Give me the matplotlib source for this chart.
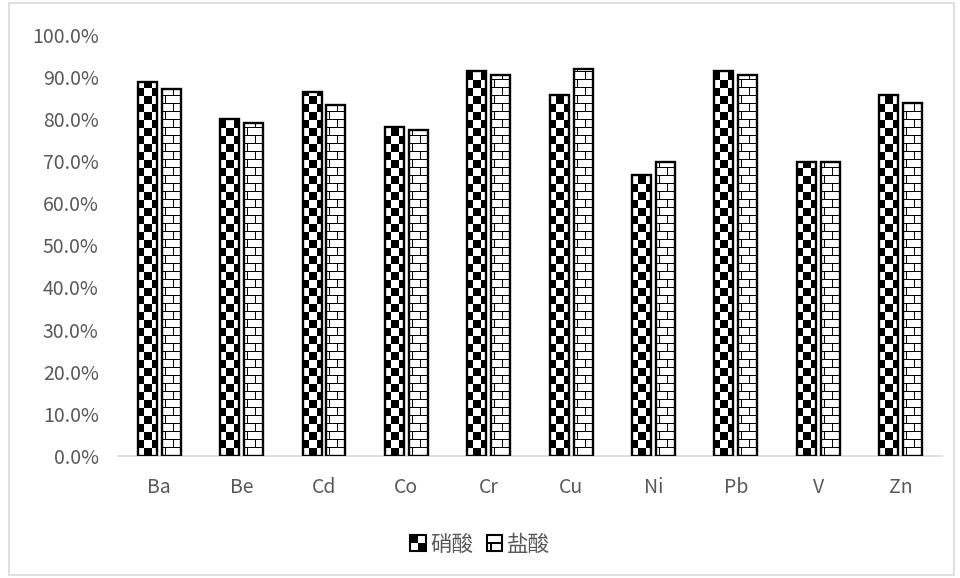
import numpy as np
import matplotlib
matplotlib.use('Agg')
import matplotlib.pyplot as plt
from matplotlib.patches import Rectangle
from matplotlib.legend_handler import HandlerBase

plt.rcParams['font.family'] = ['Noto Sans CJK SC', 'DejaVu Sans']

# data (percent)
elements = ['Ba', 'Be', 'Cd', 'Co', 'Cr', 'Cu', 'Ni', 'Pb', 'V', 'Zn']
nitric = [88.7, 80.0, 86.3, 78.0, 91.4, 85.7, 66.7, 91.4, 69.9, 85.7]
hydrochloric = [87.1, 79.0, 83.2, 77.3, 90.5, 91.9, 69.9, 90.5, 69.9, 83.9]
series_names = ['硝酸', '盐酸']
y_ticks = np.arange(0, 101, 10)

grey = '#595959'


# pixel textures, 0 = black, 1 = white
def checker(h, w, cell=8):
    i, j = np.indices((h, w))
    return 1.0 - ((i // cell + (j + 2) // cell) % 2)


def brick(h, w, row=8, bw=16):
    i, j = np.indices((h, w))
    t = np.ones((h, w))
    t[i % row == 0] = 0
    shift = np.where((i // row) % 2 == 0, 3, 3 + bw // 2)
    t[(j - shift) % bw == 0] = 0
    return t


fig = plt.figure(figsize=(9.6, 5.78), dpi=100)
ax = fig.add_axes([0.123, 0.211, 0.858, 0.729])

x = np.arange(len(elements))
width = 0.23
off = 0.145

ax.set_xlim(-0.5, len(elements) - 0.5)
ax.set_ylim(0, 100)


def patterned_bars(xs, vals, texfunc):
    bars = ax.bar(xs, vals, width, facecolor='white', edgecolor='none', zorder=2)
    for b in bars:
        x0, y0 = b.get_x(), b.get_y()
        x1, y1 = x0 + b.get_width(), y0 + b.get_height()
        p0 = ax.transData.transform((x0, y0))
        p1 = ax.transData.transform((x1, y1))
        w_px = max(int(np.ceil(p1[0] - p0[0])), 1)
        h_px = max(int(np.ceil(p1[1] - p0[1])), 1)
        tex = texfunc(h_px, w_px)[::-1]
        im = ax.imshow(tex, extent=(x0, x1, y0, y1), cmap='gray', vmin=0, vmax=1,
                       interpolation='nearest', aspect='auto', zorder=2.5)
        im.set_clip_path(b)
    ax.bar(xs, vals, width, fill=False, edgecolor='black', linewidth=1.7, zorder=3)


patterned_bars(x - off, nitric, checker)
patterned_bars(x + off, hydrochloric, brick)

ax.set_xlim(-0.5, len(elements) - 0.5)
ax.set_ylim(0, 100)
ax.set_yticks(y_ticks)
ax.set_yticklabels(['%.1f%%' % v for v in y_ticks])
ax.set_xticks(x)
ax.set_xticklabels(elements)
ax.tick_params(axis='y', length=0, pad=14, labelsize=14, labelcolor=grey)
ax.tick_params(axis='x', length=0, pad=15, labelsize=14, labelcolor=grey)
for s in ['top', 'right', 'left']:
    ax.spines[s].set_visible(False)
ax.spines['bottom'].set_color('#d9d9d9')
ax.spines['bottom'].set_linewidth(1.2)


# legend icons
class CheckerHandler(HandlerBase):
    def create_artists(self, legend, orig, xd, yd, w, h, fs, trans):
        s = min(w, h)
        x0 = xd + (w - s) / 2
        y0 = yd + (h - s) / 2
        arts = [Rectangle((x0, y0), s, s, facecolor='white', edgecolor='black', lw=1.5, transform=trans),
                Rectangle((x0, y0 + s / 2), s / 2, s / 2, facecolor='black', edgecolor='none', transform=trans),
                Rectangle((x0 + s / 2, y0), s / 2, s / 2, facecolor='black', edgecolor='none', transform=trans)]
        return arts


class BrickHandler(HandlerBase):
    def create_artists(self, legend, orig, xd, yd, w, h, fs, trans):
        s = min(w, h)
        x0 = xd + (w - s) / 2
        y0 = yd + (h - s) / 2
        arts = [Rectangle((x0, y0), s, s, facecolor='white', edgecolor='black', lw=1.5, transform=trans),
                Rectangle((x0, y0 + s * 0.45), s, s * 0.12, facecolor='black', edgecolor='none', transform=trans),
                Rectangle((x0 + s * 0.22, y0), s * 0.12, s * 0.45, facecolor='black', edgecolor='none', transform=trans)]
        return arts


h1 = Rectangle((0, 0), 1, 1)
h2 = Rectangle((0, 0), 1, 1)
fig.legend([h1, h2], series_names, loc='center', bbox_to_anchor=(0.5, 0.057),
           ncol=2, frameon=False, fontsize=15.5, labelcolor=grey,
           handler_map={h1: CheckerHandler(), h2: BrickHandler()},
           handlelength=0.75, handleheight=0.75, handletextpad=0.2, columnspacing=0.6)

# chart border
fig.patches.append(Rectangle((0.009, 0.005), 0.985, 0.99, transform=fig.transFigure,
                             fill=False, edgecolor='#d9d9d9', linewidth=1.2))

fig.savefig('out.png', dpi=100)
